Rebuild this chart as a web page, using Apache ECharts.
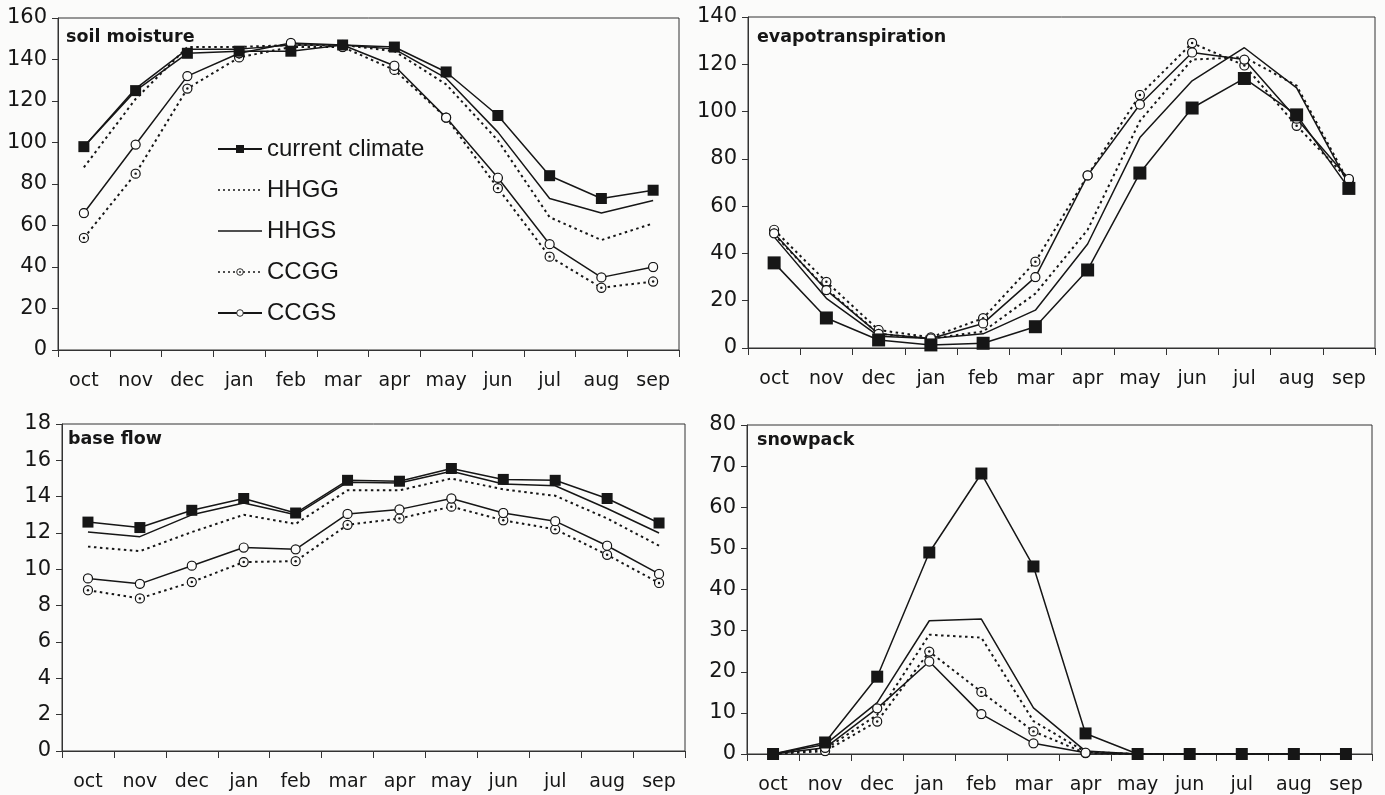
<!DOCTYPE html>
<html>
<head>
<meta charset="utf-8">
<script src="https://cdn.jsdelivr.net/npm/echarts@6/dist/echarts.min.js"></script>
<style>
  html, body { margin: 0; padding: 0; background: #fbfbfa; }
  #chart { width: 1385px; height: 795px; }
</style>
</head>
<body>
<div id="chart"></div>
<script>
// Months of the water year
const months = ['oct', 'nov', 'dec', 'jan', 'feb', 'mar', 'apr', 'may', 'jun', 'jul', 'aug', 'sep'];
const scenarioNames = ['current climate', 'HHGG', 'HHGS', 'CCGG', 'CCGS'];

// Soil moisture
const soilCurrent = [98, 125, 143, 144, 144, 147, 146, 134, 113, 84, 73, 77];
const soilHHGG    = [88, 121, 146, 146, 147, 147, 144, 128, 101, 64, 53, 61];
const soilHHGS    = [98, 126, 145, 145, 147, 147, 145, 131, 105, 73, 66, 72];
const soilCCGG    = [54, 85, 126, 141, 146, 146, 135, 112, 78, 45, 30, 33];
const soilCCGS    = [66, 99, 132, 143, 148, 147, 137, 112, 83, 51, 35, 40];

// Evapotranspiration
const etCurrent = [36, 12.7, 3.4, 1.3, 2, 9, 33, 74, 101.5, 114, 98.6, 67.5];
const etHHGG    = [48, 25, 6, 4, 7, 23, 50, 96, 122, 123, 111, 70];
const etHHGS    = [47, 21, 5, 4, 6, 16, 44, 89, 113, 127, 110, 69];
const etCCGG    = [50, 28, 7.6, 4.5, 12.6, 36.5, 73, 107, 129, 119.5, 94, 71];
const etCCGS    = [48.5, 24.5, 6, 4, 10.4, 30, 73, 103, 125, 122, 97, 71.5];

// Base flow
const bfCurrent = [12.6, 12.3, 13.25, 13.9, 13.1, 14.9, 14.85, 15.55, 14.95, 14.9, 13.9, 12.55];
const bfHHGG    = [11.25, 11.0, 12.05, 13.0, 12.5, 14.35, 14.35, 15.0, 14.4, 14.05, 12.8, 11.3];
const bfHHGS    = [12.05, 11.8, 13.0, 13.65, 13.0, 14.8, 14.75, 15.4, 14.7, 14.6, 13.35, 12.0];
const bfCCGG    = [8.85, 8.4, 9.3, 10.4, 10.45, 12.45, 12.8, 13.45, 12.7, 12.2, 10.8, 9.25];
const bfCCGS    = [9.5, 9.2, 10.2, 11.2, 11.1, 13.05, 13.3, 13.9, 13.1, 12.65, 11.3, 9.75];

// Snowpack
const snowCurrent = [0, 2.8, 18.8, 49, 68.2, 45.6, 5, 0, 0, 0, 0, 0];
const snowHHGG    = [0, 1.2, 9.5, 29, 28.3, 8, 0.5, 0, 0, 0, 0, 0];
const snowHHGS    = [0, 2.3, 12.5, 32.4, 32.8, 11.2, 0.7, 0, 0, 0, 0, 0];
const snowCCGG    = [0, 0.7, 7.9, 24.9, 15.1, 5.5, 0.2, 0, 0, 0, 0, 0];
const snowCCGS    = [0, 1.5, 11.1, 22.5, 9.7, 2.6, 0.3, 0, 0, 0, 0, 0];

// Panel titles and value-axis ranges
const panelTitles = ['soil moisture', 'evapotranspiration', 'base flow', 'snowpack'];
const axisMax = [160, 140, 18, 80];
const axisStep = [20, 20, 2, 10];

const INK = '#161616';
const BG = '#fbfbfa';

function svgSymbol(withDot) {
  const svg = "<svg xmlns='http://www.w3.org/2000/svg' width='40' height='40' viewBox='0 0 40 40'>" +
    "<circle cx='20' cy='20' r='16.5' fill='" + BG + "' stroke='" + INK + "' stroke-width='4.5'/>" +
    (withDot ? "<circle cx='20' cy='20' r='4.5' fill='" + INK + "'/>" : '') +
    '</svg>';
  return 'image://data:image/svg+xml;charset=utf-8,' + encodeURIComponent(svg);
}
const dotCircle = svgSymbol(true);
const openCircle = svgSymbol(false);

const panels = [
  [soilCurrent, soilHHGG, soilHHGS, soilCCGG, soilCCGS],
  [etCurrent, etHHGG, etHHGS, etCCGG, etCCGS],
  [bfCurrent, bfHHGG, bfHHGS, bfCCGG, bfCCGS],
  [snowCurrent, snowHHGG, snowHHGS, snowCCGG, snowCCGS]
];

const grids = [
  { left: 58, top: 18, right: 706, bottom: 445 },
  { left: 748, top: 17, right: 10, bottom: 447 },
  { left: 62, top: 424, right: 700, bottom: 44 },
  { left: 747, top: 425, right: 13, bottom: 41 }
];
const squareSizes = [11, 13, 11, 12];
const titlePos = [[66, 28], [757, 28], [68, 430], [757, 431]];

const dotted = [2.5, 3.5];

function styleFor(k, p) {
  switch (k) {
    case 0: return { symbol: 'rect', symbolSize: squareSizes[p], lineStyle: { color: INK, width: 1.5, type: 'solid' }, z: 5 };
    case 1: return { symbol: 'none', lineStyle: { color: INK, width: 2, type: dotted }, z: 2 };
    case 2: return { symbol: 'none', lineStyle: { color: INK, width: 1.5, type: 'solid' }, z: 2 };
    case 3: return { symbol: dotCircle, symbolSize: 11, lineStyle: { color: INK, width: 2, type: dotted }, z: 3 };
    case 4: return { symbol: openCircle, symbolSize: 11, lineStyle: { color: INK, width: 1.5, type: 'solid' }, z: 4 };
  }
}

const series = [];
panels.forEach((sets, p) => {
  sets.forEach((vals, k) => {
    const st = styleFor(k, p);
    series.push(Object.assign({
      type: 'line',
      name: scenarioNames[k],
      xAxisIndex: p,
      yAxisIndex: p,
      data: vals,
      showSymbol: st.symbol !== 'none',
      itemStyle: { color: INK },
      animation: false,
      silent: true
    }, st));
  });
});

const chart = echarts.init(document.getElementById('chart'), null, { renderer: 'canvas' });
chart.setOption({
  backgroundColor: BG,
  animation: false,
  title: panelTitles.map((t, i) => ({
    text: t, left: titlePos[i][0], top: titlePos[i][1], padding: 0,
    textStyle: { fontFamily: 'DejaVu Sans', fontWeight: 'bold', fontSize: 17.5, color: INK }
  })),
  legend: {
    orient: 'vertical',
    left: 212,
    top: 132,
    itemWidth: 44,
    itemHeight: 10,
    itemGap: 17,
    textStyle: { fontFamily: 'Liberation Sans', fontSize: 24, color: INK },
    data: [
      { name: 'current climate' },
      { name: 'HHGG', itemStyle: { opacity: 0 }, lineStyle: { color: INK, width: 1.6, type: [2, 3] } },
      { name: 'HHGS', itemStyle: { opacity: 0 }, lineStyle: { color: INK, width: 1.3 } },
      { name: 'CCGG', lineStyle: { color: INK, width: 1.6, type: [2, 3] } },
      { name: 'CCGS' }
    ]
  },
  grid: grids.map(g => Object.assign({ show: true, borderColor: '#333', borderWidth: 1, backgroundColor: 'transparent' }, g)),
  xAxis: grids.map((g, i) => ({
    type: 'category',
    gridIndex: i,
    data: months,
    boundaryGap: true,
    axisLine: { lineStyle: { color: '#333', width: 1 } },
    axisTick: { show: true, inside: false, length: 7, lineStyle: { color: '#333' } },
    axisLabel: { margin: 22, fontFamily: 'DejaVu Sans', fontSize: 19, color: INK, interval: 0 },
    splitLine: { show: false }
  })),
  yAxis: grids.map((g, i) => ({
    type: 'value',
    gridIndex: i,
    min: 0,
    max: axisMax[i],
    interval: axisStep[i],
    axisLine: { show: true, lineStyle: { color: '#333', width: 1 } },
    axisTick: { show: true, inside: false, length: 6, lineStyle: { color: '#333' } },
    axisLabel: { margin: 11, fontFamily: 'DejaVu Sans', fontSize: 21, color: INK },
    splitLine: { show: false }
  })),
  series: series
});
</script>
</body>
</html>
